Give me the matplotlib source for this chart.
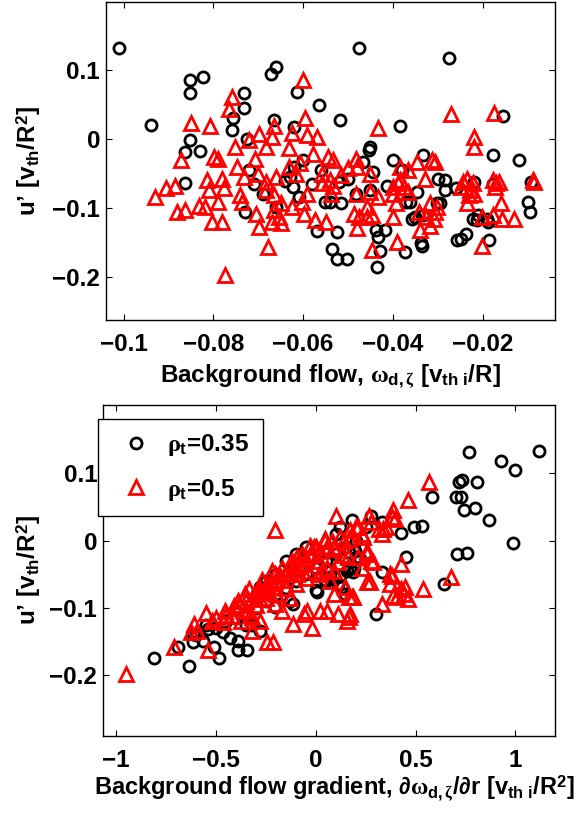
import matplotlib
matplotlib.use('Agg')
import matplotlib.pyplot as plt
import numpy as np
from matplotlib.ticker import FuncFormatter

plt.rcParams['font.family'] = 'Liberation Sans'
plt.rcParams['font.weight'] = 'bold'
plt.rcParams['mathtext.fontset'] = 'custom'
plt.rcParams['mathtext.rm'] = 'Liberation Sans:bold'
plt.rcParams['mathtext.bf'] = 'Liberation Sans:bold'
plt.rcParams['mathtext.it'] = 'Liberation Serif'
plt.rcParams['mathtext.sf'] = 'Liberation Sans:bold'

# ---- data: (x, u') ----
# top panel: background flow omega_d,zeta
top_rho035 = [
    (-0.1009, 0.133), (-0.0938, 0.021), (-0.0851, 0.086), (-0.0822, 0.090), (-0.0853, 0.067),
    (-0.0851, -0.001), (-0.0864, -0.018), (-0.0830, -0.017), (-0.0864, -0.063), (-0.0731, 0.067),
    (-0.0731, 0.046), (-0.0755, 0.031), (-0.0758, 0.013), (-0.0726, 0.001), (-0.0672, 0.094),
    (-0.0660, 0.105), (-0.0614, 0.068), (-0.0620, 0.018), (-0.0664, 0.028), (-0.0476, 0.132),
    (-0.0274, 0.118), (-0.0565, 0.050), (-0.0517, 0.028), (-0.0385, 0.019), (-0.0450, -0.011),
    (-0.0155, 0.034), (-0.0176, -0.023), (-0.0119, -0.030), (-0.0333, -0.023), (-0.0091, -0.062),
    (-0.0094, -0.105), (-0.0098, -0.091), (-0.0729, -0.106), (-0.0568, -0.133), (-0.0525, -0.134),
    (-0.0535, -0.159), (-0.0525, -0.174), (-0.0502, -0.174), (-0.0436, -0.185), (-0.0429, -0.162),
    (-0.0438, -0.132), (-0.0417, -0.131), (-0.0433, -0.141), (-0.0373, -0.163), (-0.0357, -0.115),
    (-0.0338, -0.151), (-0.0334, -0.154), (-0.0257, -0.146), (-0.0247, -0.144), (-0.0222, -0.116),
    (-0.0210, -0.110), (-0.0189, -0.120), (-0.0185, -0.146), (-0.0301, -0.093), (-0.0371, -0.091),
    (-0.0450, -0.074), (-0.0550, -0.091), (-0.0452, -0.016), (-0.0284, -0.059), (-0.0299, -0.057),
    (-0.0284, -0.074), (-0.0347, -0.076), (-0.0414, -0.067), (-0.0444, -0.047), (-0.0467, -0.033),
    (-0.0623, -0.069), (-0.0541, -0.091), (-0.0515, -0.093), (-0.0482, -0.079), (-0.0351, -0.113),
    (-0.0333, -0.110), (-0.0362, -0.091), (-0.0295, -0.093), (-0.0213, -0.117), (-0.0191, -0.115),
    (-0.0236, -0.138), (-0.0630, -0.055), (-0.0610, -0.083), (-0.0640, -0.060), (-0.0580, -0.065),
    (-0.0560, -0.045), (-0.0520, -0.062), (-0.0500, -0.058), (-0.0720, -0.045), (-0.0710, -0.065),
    (-0.0690, -0.080), (-0.0660, -0.098), (-0.0620, -0.040), (-0.0600, -0.030), (-0.0260, -0.070),
    (-0.0220, -0.062), (-0.0176, -0.065), (-0.0400, -0.030), (-0.0380, -0.045),
]
top_rho05 = [
    (-0.0601, 0.0865), (-0.0758, 0.061), (-0.0765, 0.044), (-0.0849, 0.024), (-0.0808, 0.020),
    (-0.0595, 0.031), (-0.0665, 0.020), (-0.0270, 0.037), (-0.0174, 0.038), (-0.0434, 0.016),
    (-0.0218, 0.003), (-0.0218, -0.011), (-0.0873, -0.030), (-0.0624, 0.009), (-0.0591, 0.006),
    (-0.0570, 0.004), (-0.0670, 0.003), (-0.0699, 0.008), (-0.0720, -0.001), (-0.0752, -0.011),
    (-0.0682, -0.011), (-0.0632, -0.013), (-0.0798, -0.026), (-0.0790, -0.028), (-0.0707, -0.028),
    (-0.0578, -0.021), (-0.0545, -0.026), (-0.0533, -0.030), (-0.0483, -0.028), (-0.0479, -0.040),
    (-0.0434, -0.084), (-0.0384, -0.040), (-0.0367, -0.045), (-0.0347, -0.033), (-0.0313, -0.030),
    (-0.0305, -0.033), (-0.0328, -0.057), (-0.0235, -0.057), (-0.0177, -0.059), (-0.0164, -0.062),
    (-0.0088, -0.059), (-0.0814, -0.059), (-0.0781, -0.057), (-0.0748, -0.040), (-0.0732, -0.055),
    (-0.0906, -0.071), (-0.0885, -0.067), (-0.0930, -0.084), (-0.0632, -0.040), (-0.0616, -0.050),
    (-0.0607, -0.035), (-0.0700, -0.050), (-0.0682, -0.062), (-0.0661, -0.055), (-0.0558, -0.050),
    (-0.0541, -0.059), (-0.0516, -0.052), (-0.0500, -0.042), (-0.0450, -0.050), (-0.0400, -0.069),
    (-0.0384, -0.059), (-0.0367, -0.076), (-0.0450, -0.076), (-0.0483, -0.079), (-0.0243, -0.062),
    (-0.0227, -0.074), (-0.0881, -0.105), (-0.0864, -0.103), (-0.0831, -0.096), (-0.0819, -0.098),
    (-0.0802, -0.120), (-0.0781, -0.120), (-0.0790, -0.091), (-0.0810, -0.074), (-0.0777, -0.071),
    (-0.0740, -0.081), (-0.0736, -0.091), (-0.0704, -0.108), (-0.0699, -0.127), (-0.0678, -0.156),
    (-0.0775, -0.197), (-0.0682, -0.074), (-0.0665, -0.081), (-0.0649, -0.093), (-0.0665, -0.103),
    (-0.0670, -0.120), (-0.0649, -0.122), (-0.0653, -0.113), (-0.0624, -0.098), (-0.0599, -0.108),
    (-0.0574, -0.117), (-0.0549, -0.120), (-0.0603, -0.091), (-0.0591, -0.079), (-0.0558, -0.064),
    (-0.0533, -0.067), (-0.0537, -0.079), (-0.0487, -0.108), (-0.0475, -0.113), (-0.0458, -0.098),
    (-0.0458, -0.113), (-0.0446, -0.110), (-0.0479, -0.129), (-0.0446, -0.161), (-0.0400, -0.113),
    (-0.0392, -0.093), (-0.0400, -0.079), (-0.0376, -0.069), (-0.0388, -0.064), (-0.0390, -0.149),
    (-0.0342, -0.105), (-0.0318, -0.093), (-0.0305, -0.105), (-0.0326, -0.113), (-0.0309, -0.115),
    (-0.0301, -0.098), (-0.0340, -0.132), (-0.0318, -0.125), (-0.0247, -0.069), (-0.0231, -0.081),
    (-0.0235, -0.093), (-0.0218, -0.079), (-0.0202, -0.154), (-0.0202, -0.113), (-0.0177, -0.110),
    (-0.0160, -0.093), (-0.0173, -0.069), (-0.0169, -0.064), (-0.0156, -0.115), (-0.0131, -0.115),
    (-0.0086, -0.062), (-0.0222, -0.064),
]

# bottom panel: background flow gradient d omega_d,zeta / dr
bot_rho035 = [
    (0.770, 0.131), (1.117, 0.133), (0.928, 0.118), (0.998, 0.104), (0.733, 0.090), (0.720, 0.087),
    (0.807, 0.087), (0.584, 0.065), (0.701, 0.065), (0.727, 0.065), (0.742, 0.045), (0.798, 0.049),
    (0.866, 0.031), (0.491, 0.020), (0.534, 0.021), (0.426, 0.011), (0.989, -0.004), (0.705, -0.020),
    (0.757, -0.019), (0.454, -0.024), (0.640, -0.064), (0.333, -0.047), (0.277, 0.037), (0.333, 0.027),
    (0.166, -0.017), (0.203, -0.025), (0.157, -0.045), (0.194, -0.040), (-0.038, -0.025), (0.000, -0.074),
    (0.073, -0.054), (0.129, -0.069), (-0.280, -0.069), (-0.812, -0.174), (-0.636, -0.186),
    (-0.688, -0.158), (-0.484, -0.174), (-0.512, -0.158), (-0.391, -0.163), (-0.344, -0.163),
    (-0.391, -0.149), (-0.614, -0.139), (-0.614, -0.151), (-0.567, -0.149), (-0.539, -0.131),
    (-0.465, -0.136), (-0.428, -0.144), (-0.317, -0.126), (-0.280, -0.134), (0.300, -0.109),
    (-0.112, -0.094), (-0.131, -0.089), (-0.242, -0.079), (-0.205, -0.099), (0.110, -0.064),
    (0.148, -0.079), (0.173, -0.040), (0.189, -0.047), (0.123, -0.052), (0.089, -0.054),
    (0.006, -0.077), (0.048, -0.058), (0.064, -0.045), (0.198, -0.015), (0.223, -0.027),
    (-0.45, -0.120), (-0.40, -0.115), (-0.35, -0.110), (-0.30, -0.100), (-0.25, -0.090),
    (-0.20, -0.080), (-0.15, -0.070), (-0.10, -0.060), (-0.05, -0.050), (0.00, -0.040),
    (0.05, -0.030), (0.10, -0.020), (0.15, -0.010), (0.20, 0.000), (0.25, 0.020), (-0.15, -0.030),
    (-0.10, -0.020), (-0.05, -0.010), (0.10, 0.010), (0.05, -0.060), (-0.20, -0.050),
    (-0.25, -0.060), (-0.60, -0.140), (-0.55, -0.125), (-0.50, -0.130), (-0.35, -0.125),
    (0.18, 0.030), (0.12, 0.020),
]
bot_rho05 = [
    (0.565, 0.087), (0.463, 0.060), (0.389, 0.045), (0.398, 0.032), (0.101, 0.037), (-0.205, 0.015),
    (0.268, 0.037), (0.278, 0.027), (0.315, 0.017), (0.203, 0.020), (0.231, 0.010), (0.166, 0.003),
    (0.352, 0.020), (0.333, 0.010), (0.045, 0.003), (0.055, -0.010), (0.000, -0.010), (0.092, -0.012),
    (0.129, -0.022), (0.110, -0.032), (0.259, -0.020), (0.278, -0.030), (0.259, -0.062), (0.231, -0.040),
    (0.426, -0.035), (0.370, -0.049), (0.677, -0.054), (0.538, -0.072), (0.426, -0.072), (0.444, -0.079),
    (-0.019, -0.020), (0.018, -0.030), (-0.094, -0.025), (-0.057, -0.035), (-0.131, -0.035),
    (-0.150, -0.049), (-0.094, -0.049), (-0.038, -0.045), (-0.205, -0.049), (-0.168, -0.059),
    (-0.242, -0.064), (-0.205, -0.069), (-0.335, -0.072), (-0.280, -0.077), (0.018, -0.049),
    (0.055, -0.040), (0.092, -0.045), (0.184, -0.084), (0.148, -0.069), (-0.948, -0.198),
    (-0.710, -0.158), (-0.539, -0.163), (-0.610, -0.124), (-0.595, -0.134), (-0.623, -0.136),
    (-0.549, -0.107), (-0.456, -0.104), (-0.409, -0.097), (-0.391, -0.089), (-0.465, -0.121),
    (-0.372, -0.119), (-0.317, -0.114), (-0.280, -0.119), (-0.354, -0.079), (-0.280, -0.087),
    (-0.242, -0.074), (-0.205, -0.094), (-0.317, -0.134), (-0.242, -0.151), (-0.214, -0.151),
    (-0.168, -0.104), (-0.112, -0.124), (-0.057, -0.109), (-0.020, -0.129), (0.055, -0.104),
    (0.110, -0.109), (0.166, -0.114), (0.157, -0.119), (0.092, -0.079), (0.166, -0.084),
    (0.333, -0.094), (0.389, -0.082), (0.463, -0.087), (0.370, -0.064), (0.381, -0.052),
    (0.273, -0.062), (0.448, -0.069), (0.406, -0.084), (0.189, -0.084), (0.173, -0.109),
    (0.022, -0.104), (-0.044, -0.104), (0.381, 0.035), (0.339, 0.017), (0.256, -0.015),
    (0.289, -0.032), (0.214, -0.025), (0.164, -0.025), (-0.011, -0.010), (0.048, 0.000),
    (0.089, -0.010), (0.139, 0.000), (0.173, 0.015), (0.214, 0.020), (0.239, 0.005),
    (-0.45, -0.110), (-0.40, -0.100), (-0.38, -0.095), (-0.35, -0.090), (-0.32, -0.085),
    (-0.30, -0.080), (-0.28, -0.072), (-0.25, -0.068), (-0.22, -0.063), (-0.20, -0.058),
    (-0.18, -0.052), (-0.15, -0.048), (-0.12, -0.043), (-0.10, -0.038), (-0.08, -0.033),
    (-0.05, -0.028), (-0.02, -0.022), (0.02, -0.015), (0.08, 0.000), (0.12, 0.005),
    (-0.30, -0.095), (-0.25, -0.085), (-0.20, -0.080), (-0.15, -0.070), (-0.10, -0.065),
    (-0.05, -0.055), (-0.35, -0.105), (-0.42, -0.112), (-0.27, -0.058), (-0.22, -0.045),
    (-0.17, -0.040), (-0.12, -0.030), (-0.07, -0.020), (-0.03, -0.008), (-0.13, -0.085),
    (-0.33, -0.110), (0.03, -0.045), (0.07, -0.060), (-0.50, -0.115), (-0.52, -0.120),
]

top_xticks = [-0.1, -0.08, -0.06, -0.04, -0.02]
bot_xticks = [-1, -0.5, 0, 0.5, 1]
yticks = [-0.2, -0.1, 0, 0.1]
labels = [r'$\rho_{\mathbf{t}}$=0.35', r'$\rho_{\mathbf{t}}$=0.5']


def fmt(v, pos):
    return ('%g' % v).replace('-', '\u2212')


fig = plt.figure(figsize=(5.84, 8.17), dpi=100)
ax1 = fig.add_axes([0.1808, 0.6083, 0.770, 0.3892])
ax2 = fig.add_axes([0.1759, 0.0991, 0.775, 0.4051])

circ = dict(linestyle='none', marker='o', mfc='none', mec='black', ms=8, mew=2.0)
tri = dict(linestyle='none', marker='^', mfc='none', mec='red', ms=10, mew=2.0)

for ax, blk, red, lx in [(ax1, top_rho035, top_rho05, -0.139),
                         (ax2, bot_rho035, bot_rho05, -0.132)]:
    b = np.array(blk)
    r = np.array(red)
    ax.plot(b[:, 0], b[:, 1], label=labels[0], **circ)
    ax.plot(r[:, 0], r[:, 1], label=labels[1], **tri)
    ax.set_yticks(yticks)
    ax.xaxis.set_major_formatter(FuncFormatter(fmt))
    ax.yaxis.set_major_formatter(FuncFormatter(fmt))
    ax.tick_params(direction='in', top=True, right=True, length=4, width=0.8,
                   labelsize=17.5)
    ax.tick_params(axis='x', pad=9)
    ax.tick_params(axis='y', pad=4)
    for s in ax.spines.values():
        s.set_linewidth(1.0)
    ax.set_ylabel(r'u’ [v$_{\mathbf{th}}$/R$^{\mathbf{2}}$]', fontsize=17.5, fontweight='bold')
    ax.yaxis.set_label_coords(lx, 0.5)

ax1.set_xticks(top_xticks)
ax1.set_xlim(-0.104, -0.0038)
ax1.set_ylim(-0.262, 0.199)
ax1.set_xlabel(r'Background flow, $\omega_{\mathbf{d,}\zeta}$ [v$_{\mathbf{th\ i}}$/R]',
               fontsize=17.5, fontweight='bold', labelpad=5)

ax2.set_xticks(bot_xticks)
ax2.set_xlim(-1.067, 1.2)
ax2.set_ylim(-0.29, 0.201)
ax2.set_xlabel(r'Background flow gradient, $\partial\omega_{\mathbf{d,}\zeta}/\partial$r [v$_{\mathbf{th\ i}}$/R$^{\mathbf{2}}$]',
               fontsize=17, fontweight='bold')
ax2.xaxis.set_label_coords(0.512, -0.115)

leg = ax2.legend(loc='upper left', bbox_to_anchor=(98 / 584, 1 - 419 / 817),
                 bbox_transform=fig.transFigure, fontsize=17.5, frameon=True,
                 fancybox=False, edgecolor='black', framealpha=1,
                 borderpad=0.55, handlelength=2.0, handletextpad=0.3,
                 labelspacing=0.75, borderaxespad=0)
leg.get_frame().set_linewidth(1.0)

fig.savefig('out.png', dpi=100)
